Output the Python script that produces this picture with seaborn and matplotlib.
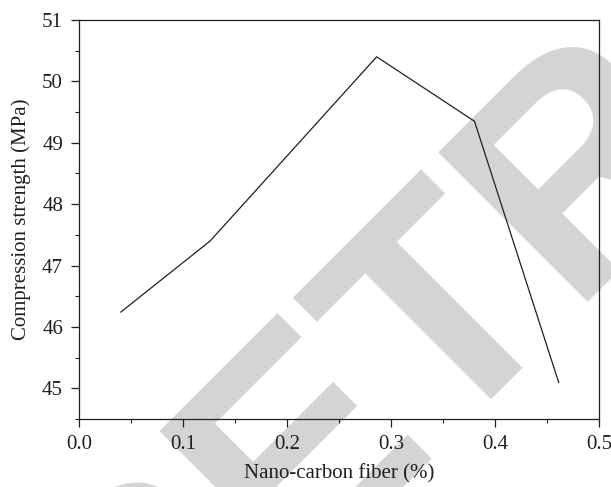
import matplotlib
matplotlib.use("Agg")
import matplotlib.pyplot as plt
import seaborn as sns
import pandas as pd
from matplotlib.ticker import MultipleLocator

# Data
fiber = [0.040, 0.126, 0.286, 0.380, 0.461]
strength = [46.24, 47.40, 50.40, 49.35, 45.09]
x_label = "Nano-carbon fiber (%)"
y_label = "Compression strength (MPa)"
watermark = "RETRACTED"

df = pd.DataFrame({"fiber": fiber, "strength": strength})

sns.set_style("ticks")
plt.rcParams["font.family"] = ["Liberation Serif", "DejaVu Serif"]

ink = "#231f20"
fig = plt.figure(figsize=(6.11, 4.87), dpi=100)
fig.patch.set_facecolor("white")

# watermark behind everything
fig.text(0.216, -0.515, watermark, rotation=45, rotation_mode="anchor",
         ha="left", va="baseline", fontsize=222, color="#d4d4d4",
         family="Liberation Sans", fontweight="bold", zorder=-5)

ax = fig.add_axes([0.1293, 0.1396, 0.9810 - 0.1293, 0.959 - 0.1396])
ax.patch.set_alpha(0)

sns.lineplot(data=df, x="fiber", y="strength", ax=ax, color=ink,
             linewidth=0.9, sort=False)

ax.set_xlim(0.0, 0.5)
ax.set_ylim(44.5, 51)
ax.xaxis.set_minor_locator(MultipleLocator(0.05))
ax.yaxis.set_minor_locator(MultipleLocator(0.5))
ax.set_xticks([0.0, 0.1, 0.2, 0.3, 0.4, 0.5])
ax.set_xticklabels(["0.0", "0.1", "0.2", "0.3", "0.4", "0.5"])
ax.set_yticks([45, 46, 47, 48, 49, 50, 51])
ax.set_yticklabels(["45", "46", "47", "48", "49", "50", "51"])

for s in ax.spines.values():
    s.set_visible(True)
    s.set_color(ink)
    s.set_linewidth(0.9)

ax.tick_params(which="major", direction="out", length=5.5, width=0.9,
               colors=ink, labelsize=15, pad=6,
               top=False, right=False)
ax.tick_params(which="minor", direction="out", length=3, width=0.8,
               colors=ink, top=False, right=False)

ax.set_xlabel(x_label, fontsize=15, color=ink, labelpad=7)
ax.set_ylabel(y_label, fontsize=15, color=ink, labelpad=8)

fig.savefig("out.png", dpi=100)
